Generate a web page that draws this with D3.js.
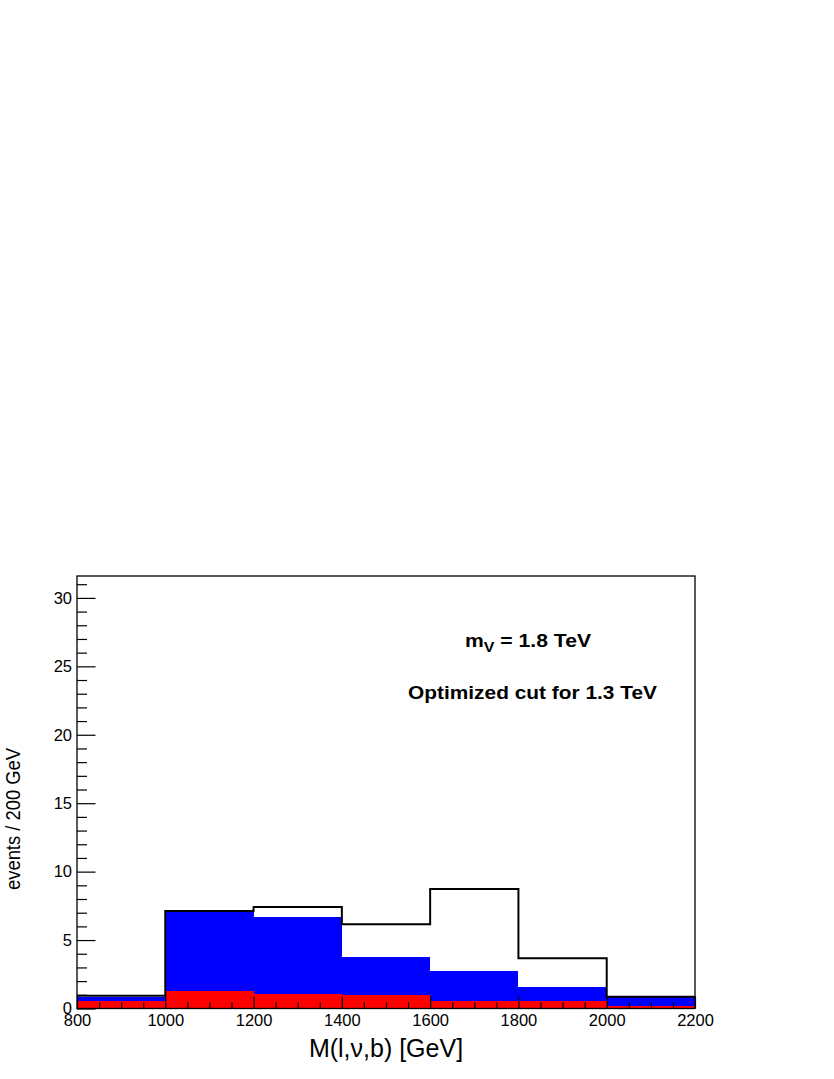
<!DOCTYPE html>
<html>
<head>
<meta charset="utf-8">
<script src="https://cdn.jsdelivr.net/npm/d3@7"></script>
<style>
  html, body { margin: 0; padding: 0; background: #fff; }
  svg { display: block; font-family: "Liberation Sans", Arial, Helvetica, sans-serif; }
</style>
</head>
<body>
<svg id="chart" width="834" height="1079"></svg>
<script>
// ---- data ----
const binEdges = [800, 1000, 1200, 1400, 1600, 1800, 2000, 2200];
const redValues   = [0.57, 1.26, 1.06, 0.96, 0.55, 0.55, 0.20];   // bottom stack component
const blueValues  = [0.86, 7.05, 6.66, 3.74, 2.72, 1.59, 0.82];   // stack total (blue on top of red)
const blackValues = [0.93, 7.12, 7.41, 6.15, 8.73, 3.67, 0.86];   // outline histogram
const xMajorTicks = [800, 1000, 1200, 1400, 1600, 1800, 2000, 2200];
const yMajorTicks = [0, 5, 10, 15, 20, 25, 30];
const xTitle = "M(l,ν,b) [GeV]";
const yTitle = "events / 200 GeV";
const label1Main = "m";
const label1Sub = "V";
const label1Rest = " = 1.8 TeV";
const label2 = "Optimized cut for 1.3 TeV";

// ---- layout ----
const L = 77, R = 695, T = 576, B = 1008.5;
const svg = d3.select("#chart");
svg.append("rect").attr("width", 834).attr("height", 1079).attr("fill", "#fff");

const x = d3.scaleLinear().domain([800, 2200]).range([L, R]);
const y = d3.scaleLinear().domain([0, 31.6]).range([B, T]);

const bins = binEdges.slice(0, -1).map((e, i) => ({
  x0: e, x1: binEdges[i + 1],
  red: redValues[i], blue: blueValues[i], black: blackValues[i]
}));

// blue (stack total)
svg.append("g").selectAll("rect").data(bins).join("rect")
  .attr("x", d => x(d.x0)).attr("width", d => x(d.x1) - x(d.x0))
  .attr("y", d => y(d.blue)).attr("height", d => y(0) - y(d.blue))
  .attr("fill", "#0000ff").attr("shape-rendering", "crispEdges");

// red
svg.append("g").selectAll("rect").data(bins).join("rect")
  .attr("x", d => x(d.x0)).attr("width", d => x(d.x1) - x(d.x0))
  .attr("y", d => y(d.red)).attr("height", d => y(0) - y(d.red))
  .attr("fill", "#ff0000").attr("shape-rendering", "crispEdges");

// black outline histogram (step)
const stepPts = [];
bins.forEach(d => { stepPts.push([d.x0, d.black]); stepPts.push([d.x1, d.black]); });
const line = d3.line().x(p => x(p[0])).y(p => y(p[1]));
svg.append("path").attr("d", line(stepPts))
  .attr("fill", "none").attr("stroke", "#000").attr("stroke-width", 2);

// ---- axes ----
const xMinor = d3.range(800, 2201, 50).filter(v => !xMajorTicks.includes(v));
const yMinor = d3.range(0, 31.6, 1).filter(v => !yMajorTicks.includes(v));

const gx = svg.append("g").attr("transform", `translate(0,${B})`);
gx.call(d3.axisBottom(x).tickValues(xMajorTicks).tickFormat(d3.format("d"))
  .tickSizeInner(-12).tickSizeOuter(0).tickPadding(6));
gx.append("g").call(d3.axisBottom(x).tickValues(xMinor).tickFormat("")
  .tickSizeInner(-6).tickSizeOuter(0)).select(".domain").remove();

const gy = svg.append("g").attr("transform", `translate(${L},0)`);
gy.call(d3.axisLeft(y).tickValues(yMajorTicks).tickFormat(d3.format("d"))
  .tickSizeInner(-18.5).tickSizeOuter(0).tickPadding(5));
gy.append("g").call(d3.axisLeft(y).tickValues(yMinor).tickFormat("")
  .tickSizeInner(-10).tickSizeOuter(0)).select(".domain").remove();

svg.selectAll(".tick line").attr("stroke", "#000").attr("stroke-width", 1.2);
svg.selectAll(".tick text").attr("fill", "#000")
  .style("font-size", "16.5px").style("font-family", "'Liberation Sans', Arial, sans-serif");
svg.selectAll(".domain").remove();

// frame
svg.append("rect").attr("x", L).attr("y", T).attr("width", R - L).attr("height", B - T)
  .attr("fill", "none").attr("stroke", "#000").attr("stroke-width", 1.3);

// axis titles
svg.append("text").attr("x", (L + R) / 2).attr("y", 1057)
  .attr("text-anchor", "middle").style("font-size", "25px").text(xTitle);

const yt = svg.append("text").attr("x", 0).attr("y", 0)
  .attr("text-anchor", "middle").style("font-size", "21px").text(yTitle);
{
  const w = yt.node().getComputedTextLength();
  yt.attr("transform", `translate(20,819) rotate(-90) scale(${142 / w},1)`);
}

// annotations (fit to the reference's text extents)
function fitWidth(sel, x0, targetW) {
  const w = sel.node().getComputedTextLength();
  sel.attr("x", 0).attr("transform", `translate(${x0},0) scale(${targetW / w},1)`);
}
const t1 = svg.append("text").attr("y", 647)
  .style("font-size", "18.5px").style("font-weight", "bold");
t1.append("tspan").text(label1Main);
t1.append("tspan").attr("dy", 5).style("font-size", "14px").text(label1Sub);
t1.append("tspan").attr("dy", -5).text(label1Rest);
fitWidth(t1, 465, 126);

const t2 = svg.append("text").attr("y", 699.5)
  .style("font-size", "18.5px").style("font-weight", "bold").text(label2);
fitWidth(t2, 408, 249);
</script>
</body>
</html>
